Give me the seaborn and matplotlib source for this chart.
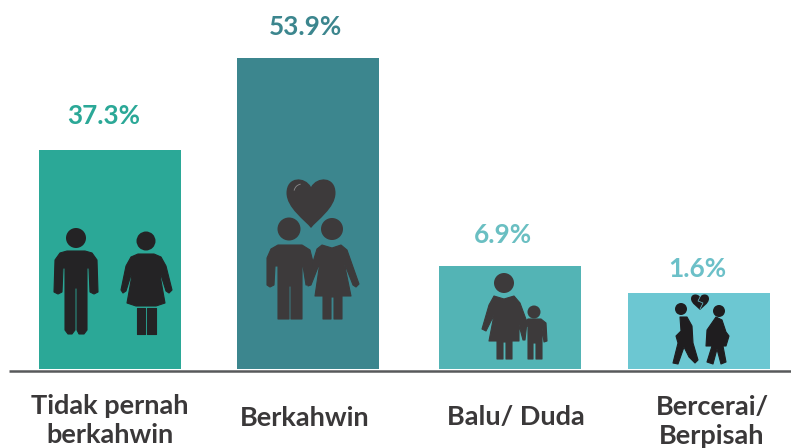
import matplotlib
matplotlib.use("Agg")
import matplotlib.pyplot as plt
import pandas as pd
import seaborn as sns
from matplotlib.patches import Arc, Circle, PathPatch, Polygon
from matplotlib.path import Path
from matplotlib.transforms import Affine2D

categories = ["Tidak pernah\nberkahwin", "Berkahwin", "Balu/ Duda", "Bercerai/\nBerpisah"]
value_labels = ["37.3%", "53.9%", "6.9%", "1.6%"]
# the bars in the picture are not to scale with the percentages, heights are read off the picture
bar_heights = [219, 311, 103, 76]

bar_colors = ["#2BA897", "#3C868E", "#53B4B5", "#6CC7D2"]
label_colors = ["#2BA897", "#3C868E", "#6ABFC2", "#6CC0C8"]
bar_centers = [110, 308, 509.5, 699]
value_pos = [(104, 116), (305, 27), (503, 235), (697, 269)]
cat_pos = [(110, 420), (305, 418), (516, 417), (712, 421)]

BASE = 369

sns.set_theme(style="white")
plt.rcParams["font.family"] = ["Lato", "DejaVu Sans"]

fig = plt.figure(figsize=(7.91, 4.48), dpi=100)
ax = fig.add_axes([0, 0, 1, 1])

df = pd.DataFrame({"pos": bar_centers, "height": bar_heights, "cat": categories})
sns.barplot(data=df, x="pos", y="height", hue="cat", hue_order=categories,
            palette=bar_colors, native_scale=True, dodge=False, width=142 / 189.5,
            saturation=1, linewidth=0, legend=False, ax=ax)
ax.set_xlim(0, 791)
ax.set_ylim(BASE - 448, BASE)
ax.axis("off")
ax.plot([9, 791], [-1.5, -1.5], color="#58595B", lw=1.8, solid_capstyle="butt")

# icons are typed in image pixels, y going down
px = Affine2D().scale(1, -1).translate(0, BASE) + ax.transData


def poly(pts, color):
    ax.add_patch(Polygon(pts, closed=True, fc=color, ec=color, lw=0.8,
                         joinstyle="round", transform=px, zorder=3))


def head(x, y, r, color):
    ax.add_patch(Circle((x, y), r, fc=color, ec="none", transform=px, zorder=3))


def heart(cx, top, w, h, color):
    verts = [(cx, top + 0.18 * h),
             (cx - 0.12 * w, top - 0.04 * h), (cx - 0.5 * w, top - 0.04 * h), (cx - 0.5 * w, top + 0.3 * h),
             (cx - 0.5 * w, top + 0.6 * h), (cx - 0.12 * w, top + 0.85 * h), (cx, top + h),
             (cx + 0.12 * w, top + 0.85 * h), (cx + 0.5 * w, top + 0.6 * h), (cx + 0.5 * w, top + 0.3 * h),
             (cx + 0.5 * w, top - 0.04 * h), (cx + 0.12 * w, top - 0.04 * h), (cx, top + 0.18 * h)]
    codes = [Path.MOVETO] + [Path.CURVE4] * 12
    ax.add_patch(PathPatch(Path(verts, codes), fc=color, ec="none", transform=px, zorder=3))


# single man and woman
dark = "#242325"
head(76, 238, 10, dark)
poly([(67, 251), (85, 251), (92, 253), (97, 260), (98, 292), (94, 294), (90, 292), (89, 268), (87, 268),
      (87, 330), (84, 334), (79, 334), (77, 330), (77, 288), (75, 288), (75, 330), (72, 334), (68, 334),
      (65, 330), (65, 268), (63, 268), (62, 292), (58, 294), (54, 292), (55, 260), (60, 253)], dark)
head(146, 241, 9.5, dark)
poly([(138, 254), (154, 254), (161, 257), (166, 266), (172, 290), (169, 293), (166, 291), (161, 275),
      (160, 275), (165, 303), (156, 306), (136, 306), (127, 303), (132, 275), (131, 275), (126, 291),
      (123, 293), (121, 290), (126, 266), (131, 257)], dark)
poly([(137, 308), (145, 308), (145, 334), (137, 334)], dark)
poly([(147, 308), (156, 308), (156, 334), (147, 334)], dark)

# couple with heart
grey = "#3D3A3B"
heart(311, 178, 49, 50, grey)
ax.add_patch(Arc((302, 192), 16, 16, theta1=190, theta2=260, ec="#8E8C8D", lw=0.6, transform=px, zorder=4))
head(289, 229, 11.5, grey)
head(332, 229, 11, grey)
poly([(278, 245), (302, 245), (310, 250), (313, 262), (309, 285), (306, 285), (303, 266), (302, 266),
      (302, 319), (291, 319), (291, 286), (289, 286), (289, 319), (278, 319), (278, 266), (275, 266),
      (274, 285), (270, 287), (267, 285), (267, 258), (271, 249)], grey)
poly([(322, 245), (332, 248), (341, 245), (347, 250), (359, 284), (356, 287), (353, 285), (344, 262),
      (351, 296), (342, 296), (342, 319), (334, 319), (334, 297), (331, 297), (331, 319), (323, 319),
      (323, 296), (315, 296), (320, 262), (311, 285), (308, 286), (313, 262), (317, 249)], grey)

# widow with child
head(504, 283, 10, grey)
poly([(494, 296), (504, 299), (514, 296), (520, 303), (527, 322), (525, 340), (523, 340), (519, 325),
      (519, 341), (512, 341), (512, 359), (506, 359), (506, 342), (503, 342), (503, 359), (497, 359),
      (497, 341), (489, 341), (494, 315), (486, 331), (482, 329), (489, 305)], grey)
head(534, 312, 6.5, grey)
poly([(528, 319), (541, 319), (546, 323), (547, 341), (544, 342), (542, 328), (542, 359), (536, 359),
      (536, 343), (533, 343), (533, 359), (528, 359), (528, 327), (525, 322)], grey)

# couple walking apart
black = "#1F1D1F"
heart(700, 294, 18, 16, black)
ax.plot([701, 698, 703, 700], [295, 301, 303, 309], color="#6CC7D2", lw=0.5, transform=px, zorder=4)
head(681, 309, 6, black)
head(719, 311, 6, black)
poly([(680, 317), (687, 317), (692, 326), (693, 343), (698, 360), (695, 363), (689, 357), (684, 347),
      (678, 364), (673, 363), (678, 343), (676, 336), (681, 331)], black)
poly([(716, 317), (722, 320), (726, 332), (729, 336), (726, 346), (723, 346), (726, 362), (721, 364),
      (717, 349), (713, 364), (707, 362), (712, 346), (706, 346), (707, 330)], black)

for (x, y), txt, col in zip(value_pos, value_labels, label_colors):
    ax.text(x, BASE - y, txt, color=col, fontsize=18.8, fontweight="bold", ha="center", va="center")

for (x, y), txt in zip(cat_pos, categories):
    ax.text(x, BASE - y, txt, color="#3A3839", fontsize=19.5, fontweight="bold", ha="center", va="center",
            linespacing=1.25, clip_on=True)

fig.savefig("out.png", dpi=100)
